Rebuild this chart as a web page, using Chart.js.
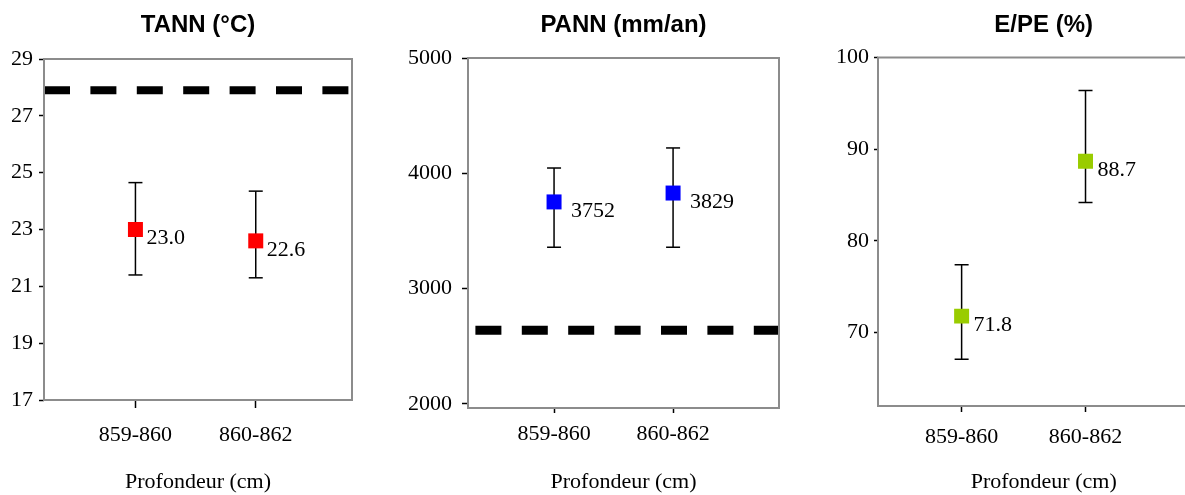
<!DOCTYPE html>
<html lang="fr">
<head>
<meta charset="utf-8">
<title>TANN / PANN / E/PE</title>
<script src="https://cdn.jsdelivr.net/npm/chart.js"></script>
<style>
html, body { margin: 0; padding: 0; background: #fff; overflow: hidden; }
canvas { position: absolute; top: 0; }
</style>
</head>
<body>
<canvas id="tann" width="400" height="495" style="left:0"></canvas>
<canvas id="pann" width="400" height="495" style="left:400px"></canvas>
<canvas id="epe" width="420" height="495" style="left:800px"></canvas>
<script>
const categories = ['859-860', '860-862'];

// TANN (°C)
const tannValues = [23.0, 22.6];
const tannHigh = [24.65, 24.35];
const tannLow = [21.4, 21.3];
const tannRef = 27.9;
const tannTicks = [17, 19, 21, 23, 25, 27, 29];

// PANN (mm/an)
const pannValues = [3752, 3829];
const pannHigh = [4046, 4220];
const pannLow = [3359, 3359];
const pannRef = 2640;
const pannTicks = [2000, 3000, 4000, 5000];

// E/PE (%)
const epeValues = [71.8, 88.7];
const epeHigh = [77.4, 96.4];
const epeLow = [67.1, 84.2];
const epeTicks = [70, 80, 90, 100];

const serif = 'Liberation Serif';

// little plugins: value labels next to the squares, grey frame round the plot
const valueLabels = {
  id: 'valueLabels',
  afterDatasetsDraw(chart, args, opts) {
    const meta = chart.getDatasetMeta(0);
    const ctx = chart.ctx;
    ctx.save();
    ctx.font = '22px "' + serif + '"';
    ctx.fillStyle = '#000';
    ctx.textAlign = 'left';
    ctx.textBaseline = 'middle';
    meta.data.forEach((pt, i) => {
      const v = chart.data.datasets[0].data[i].y;
      ctx.fillText(v.toFixed(opts.decimals), pt.x + opts.dx, pt.y + 9);
    });
    ctx.restore();
  }
};
const frame = {
  id: 'frame',
  afterDraw(chart) {
    const a = chart.chartArea, ctx = chart.ctx;
    ctx.save();
    ctx.strokeStyle = '#8c8c8c';
    ctx.lineWidth = 2;
    ctx.strokeRect(a.left, a.top, a.right - a.left, a.bottom - a.top);
    ctx.restore();
  }
};

function panel(id, p) {
  const datasets = [{
    data: p.values.map((v, i) => ({ x: i + 1, y: v })),
    pointStyle: 'rect', pointRadius: 10.6, pointBorderWidth: 0,
    backgroundColor: p.color, borderColor: p.color
  }];
  p.values.forEach((v, i) => {
    datasets.push({
      data: [{ x: i + 1, y: p.low[i] }, { x: i + 1, y: p.high[i] }],
      showLine: true, borderColor: '#000', borderWidth: 1.5,
      pointStyle: 'line', pointRadius: 7, pointBorderWidth: 1.5, pointBorderColor: '#000'
    });
  });
  if (p.ref != null) {
    datasets.push({
      data: [{ x: p.xMin, y: p.ref }, { x: p.xMax, y: p.ref }],
      showLine: true, borderColor: '#000', borderWidth: p.dashWidth,
      borderDash: [26, 20.4], borderDashOffset: p.dashOffset, pointRadius: 0
    });
  }
  return new Chart(document.getElementById(id), {
    type: 'scatter',
    data: { datasets },
    plugins: [valueLabels, frame],
    options: {
      responsive: false,
      animation: false,
      layout: { padding: { top: 0, left: 0, bottom: 0, right: p.padRight } },
      plugins: {
        legend: { display: false },
        tooltip: { enabled: false },
        title: {
          display: true, text: p.title, fullSize: false, color: '#000',
          font: { family: 'Liberation Sans', size: 24, weight: 'bold', lineHeight: 1.2 },
          padding: { top: 11, bottom: p.top - 11 - 28.8 }
        },
        valueLabels: { decimals: p.decimals, dx: p.labelDx }
      },
      scales: {
        x: {
          type: 'linear', min: p.xMin, max: p.xMax,
          afterBuildTicks: s => { s.ticks = categories.map((c, i) => ({ value: i + 1 })); },
          afterFit: s => { s.height = 495 - p.bottom; },
          ticks: {
            callback: v => categories[v - 1], color: '#000', padding: p.xTickPad,
            font: { family: serif, size: 22 }, maxRotation: 0, autoSkip: false
          },
          grid: { drawOnChartArea: false, tickLength: p.xTickLen, tickColor: '#000', tickWidth: 1.5 },
          border: { display: false },
          title: {
            display: true, text: 'Profondeur (cm)', color: '#000',
            font: { family: serif, size: 22 }, padding: { top: 0, bottom: 0 }
          }
        },
        y: {
          min: p.yMin, max: p.yMax,
          afterBuildTicks: s => { s.ticks = p.ticks.map(v => ({ value: v })); },
          afterFit: s => { s.width = p.yWidth; },
          ticks: {
            callback: v => String(v), color: '#000', padding: p.yTickPad,
            font: { family: serif, size: 22 }
          },
          grid: { drawOnChartArea: false, tickLength: p.yTickLen, tickColor: '#000', tickWidth: 1.5 },
          border: { display: false }
        }
      }
    }
  });
}

panel('tann', {
  title: 'TANN (°C)', values: tannValues, high: tannHigh, low: tannLow, ref: tannRef,
  ticks: tannTicks, color: '#ff0000', decimals: 1, labelDx: 11,
  xMin: 0.24, xMax: 2.8, yMin: 17, yMax: 29,
  yWidth: 44, padRight: 48, top: 59, bottom: 400,
  xTickPad: 14, xTickLen: 8, yTickPad: 6, yTickLen: 5,
  dashWidth: 8, dashOffset: 0
});
panel('pann', {
  title: 'PANN (mm/an)', values: pannValues, high: pannHigh, low: pannLow, ref: pannRef,
  ticks: pannTicks, color: '#0000ff', decimals: 0, labelDx: 17,
  xMin: 0.277, xMax: 2.89, yMin: 1965, yMax: 5000,
  yWidth: 68, padRight: 21, top: 58, bottom: 408,
  xTickPad: 8, xTickLen: 5, yTickPad: 10, yTickLen: 6,
  dashWidth: 9, dashOffset: 39
});
panel('epe', {
  title: 'E/PE (%)', values: epeValues, high: epeHigh, low: epeLow, ref: null,
  ticks: epeTicks, color: '#99cc00', decimals: 1, labelDx: 12,
  xMin: 0.325, xMax: 3.0, yMin: 62, yMax: 100,
  yWidth: 78, padRight: 4, top: 57.5, bottom: 406,
  xTickPad: 12, xTickLen: 6, yTickPad: 5, yTickLen: 4
});
</script>
</body>
</html>
